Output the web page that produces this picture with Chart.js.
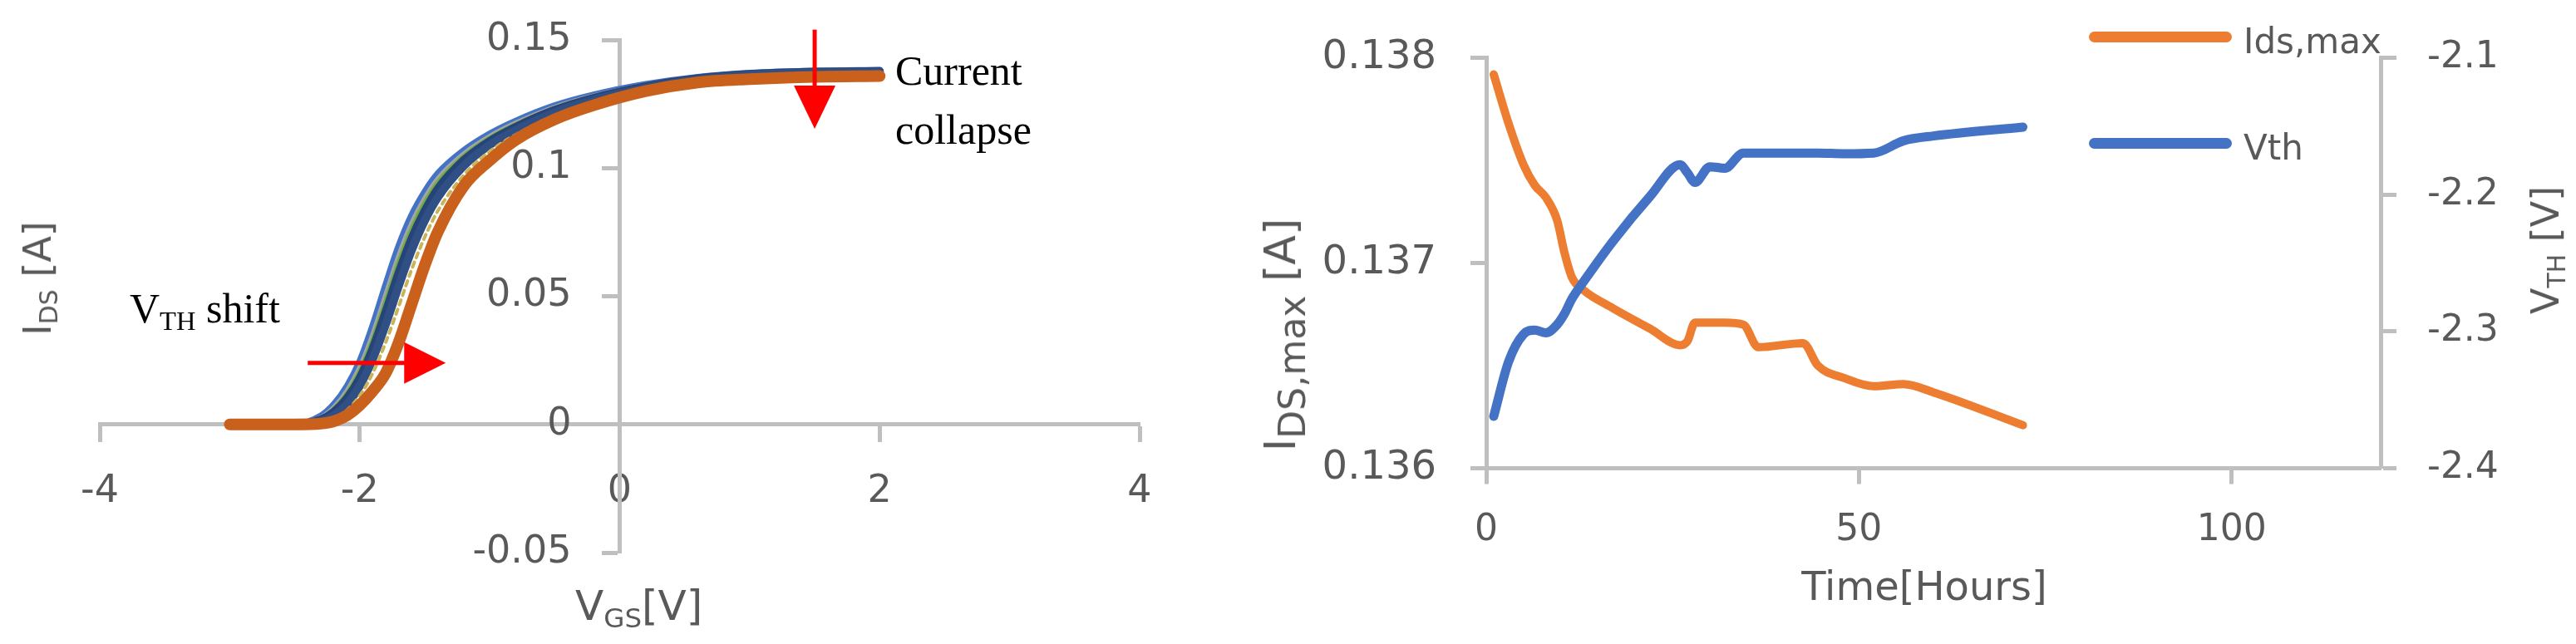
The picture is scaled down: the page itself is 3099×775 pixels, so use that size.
<!DOCTYPE html>
<html>
<head>
<meta charset="utf-8">
<script src="https://cdn.jsdelivr.net/npm/chart.js@4"></script>
<style>
  html, body { margin: 0; padding: 0; background: #fff; }
  #page { position: relative; width: 3099px; height: 775px; overflow: hidden; font-family: 'DejaVu Sans', sans-serif; color: #595959; }
  .box { position: absolute; top: 0; height: 775px; }
  .txt { position: absolute; white-space: nowrap; line-height: 1; }
  .serif { font-family: 'Liberation Serif', 'Times New Roman', serif; color: #000; }
  .sub { font-size: 0.65em; position: relative; top: 0.28em; }
  .rot { transform: translate(-50%, -50%) rotate(-90deg); }
  .swatch { position: absolute; height: 13px; border-radius: 7px; }
</style>
</head>
<body>
<div id="page">
  <div class="box" style="left:0; width:1480px;"><canvas id="transfer"></canvas></div>
  <div class="box" style="left:1480px; width:1619px;"><canvas id="stress"></canvas></div>

  <!-- left panel texts -->
  <div class="txt rot" style="left:45px; top:335px; font-size:46px;">I<span class="sub">DS</span> [A]</div>
  <div class="txt" style="left:692px; top:704px; font-size:50px;">V<span class="sub">GS</span>[V]</div>
  <div class="txt serif" style="left:1077px; top:60px; font-size:50px;">Current</div>
  <div class="txt serif" style="left:1077px; top:131px; font-size:50px;">collapse</div>
  <div class="txt serif" style="left:156px; top:346px; font-size:50px;">V<span class="sub">TH</span> shift</div>

  <!-- right panel texts -->
  <div class="txt rot" style="left:1540px; top:403px; font-size:52px;">I<span class="sub" style="font-size:0.85em">DS,max</span> [A]</div>
  <div class="txt rot" style="left:3062px; top:301px; font-size:46px;">V<span class="sub">TH</span> [V]</div>
  <div class="txt" style="left:2315px; top:681px; font-size:48px; transform: translateX(-50%);">Time[Hours]</div>

  <div class="swatch" id="swI" style="left:2513px; top:38px; width:172px;"></div>
  <div class="txt" style="left:2699px; top:29px; font-size:42px;">Ids,max</div>
  <div class="swatch" id="swV" style="left:2513px; top:166px; width:172px;"></div>
  <div class="txt" style="left:2699px; top:157px; font-size:42px;">Vth</div>
</div>

<script>
// ---- left panel: transfer curves during stress ----
const vgs       = [-3, -2.5, -2.3, -2.2, -2.1, -2, -1.9, -1.8, -1.7, -1.6, -1.5, -1.4, -1.2, -1, -0.8, -0.5, -0.2, 0.2, 0.6, 1, 1.5, 2];
const idsBlue   = [0, 0.0002, 0.0035, 0.0080, 0.0150, 0.0250, 0.0390, 0.0550, 0.0700, 0.0820, 0.0910, 0.0980, 0.1070, 0.1135, 0.1185, 0.1245, 0.1287, 0.1328, 0.1356, 0.1372, 0.1380, 0.1383];
const idsGray   = [0, 0.0001, 0.0028, 0.0068, 0.0132, 0.0225, 0.0355, 0.0510, 0.0662, 0.0788, 0.0885, 0.0960, 0.1057, 0.1125, 0.1177, 0.1239, 0.1283, 0.1325, 0.1354, 0.1370, 0.1379, 0.1382];
const idsGreen  = [0, 0.0001, 0.0024, 0.0060, 0.0120, 0.0208, 0.0333, 0.0483, 0.0635, 0.0765, 0.0866, 0.0945, 0.1047, 0.1118, 0.1171, 0.1234, 0.1279, 0.1322, 0.1352, 0.1369, 0.1377, 0.1380];
const idsNavyA  = [0, 0.0001, 0.0018, 0.0048, 0.0100, 0.0180, 0.0295, 0.0438, 0.0590, 0.0725, 0.0832, 0.0918, 0.1030, 0.1105, 0.1160, 0.1226, 0.1273, 0.1318, 0.1349, 0.1366, 0.1375, 0.1378];
const idsNavyB  = [0, 0, 0.0012, 0.0035, 0.0078, 0.0150, 0.0255, 0.0390, 0.0540, 0.0680, 0.0795, 0.0885, 0.1008, 0.1090, 0.1148, 0.1217, 0.1266, 0.1313, 0.1345, 0.1363, 0.1372, 0.1375];
const idsGold   = [0, 0, 0.0007, 0.0022, 0.0055, 0.0112, 0.0200, 0.0320, 0.0460, 0.0605, 0.0730, 0.0832, 0.0972, 0.1065, 0.1130, 0.1205, 0.1257, 0.1307, 0.1341, 0.1359, 0.1368, 0.1371];
const idsOrange = [0, 0, 0.0003, 0.0012, 0.0035, 0.0075, 0.0130, 0.0200, 0.0320, 0.0470, 0.0620, 0.0750, 0.0930, 0.1030, 0.1110, 0.1190, 0.1245, 0.1300, 0.1334, 0.1347, 0.1356, 0.1359];
const vgsTicks = [-4, -2, 0, 2, 4];
const idsTicks = [-0.05, 0, 0.05, 0.1, 0.15];
const idsTickLabels = ['-0.05', '0', '0.05', '0.1', '0.15'];

// red arrows, in data units
const collapseArrow = { x: 1.5, from: 0.154, to: 0.1153 };
const shiftArrow = { y: 0.024, from: -2.4, to: -1.338 };

// ---- right panel: Ids,max and Vth vs stress time ----
const hours  = [1, 3, 5, 6.5, 8, 9.5, 10.5, 11.5, 13, 17, 22, 26, 27, 28, 30, 32, 34.5, 36.5, 42.5, 44.5, 48, 52, 56, 60, 72];
const idsMax = [0.13792, 0.13768, 0.13748, 0.13738, 0.13732, 0.13721, 0.13705, 0.13693, 0.13687, 0.13678, 0.13668, 0.13660, 0.13662, 0.13671, 0.13671, 0.13671, 0.13670, 0.13659, 0.13661, 0.13650, 0.13644, 0.13640, 0.13641, 0.13637, 0.13621];
const vth    = [-2.362, -2.322, -2.302, -2.299, -2.301, -2.295, -2.287, -2.276, -2.264, -2.234, -2.201, -2.178, -2.184, -2.191, -2.1795, -2.1806, -2.1695, -2.1695, -2.1695, -2.1695, -2.1700, -2.1695, -2.1605, -2.1570, -2.1505];
const hourTicks = [0, 50, 100];
const idsMaxTicks = [0.136, 0.137, 0.138];
const vthTicks = [-2.4, -2.3, -2.2, -2.1];

const axisGray = '#BFBFBF';
const tickGray = '#595959';
const orangeI = '#ED7D31';
const blueV = '#4472C4';
document.getElementById('swI').style.background = orangeI;
document.getElementById('swV').style.background = blueV;

Chart.defaults.font.family = "'DejaVu Sans', sans-serif";
Chart.defaults.color = tickGray;
Chart.defaults.animation = false;
Chart.defaults.events = [];
Chart.defaults.plugins.legend.display = false;
Chart.defaults.plugins.tooltip.enabled = false;

const toXY = (xs, ys) => xs.map((x, i) => ({ x: x, y: ys[i] }));
const curve = (data, color, width, order, dash) => ({
    data: toXY(vgs, data),
    borderColor: color,
    borderWidth: width,
    borderDash: dash || [],
    borderCapStyle: 'round',
    borderJoinStyle: 'round',
    pointRadius: 0,
    tension: 0.4,
    cubicInterpolationMode: 'monotone',
    order: order,
    clip: false
});

const tickMarks = { drawOnChartArea: false, drawTicks: true, tickLength: 19, tickWidth: 5, tickColor: axisGray };

// tick labels of the centred y axis, placed left of the axis line
const yLabelPlugin = {
    id: 'yLabels',
    afterDraw(chart) {
        const { ctx, scales: { x, y } } = chart;
        const ax = x.getPixelForValue(0);
        ctx.save();
        ctx.font = "46px 'DejaVu Sans'";
        ctx.fillStyle = tickGray;
        ctx.textAlign = 'right';
        ctx.textBaseline = 'middle';
        idsTicks.forEach((v, i) => ctx.fillText(idsTickLabels[i], ax - 58, y.getPixelForValue(v)));
        ctx.restore();
    }
};

const arrowPlugin = {
    id: 'arrows',
    afterDraw(chart) {
        const { ctx, scales: { x, y } } = chart;
        ctx.save();
        ctx.strokeStyle = '#FF0000';
        ctx.fillStyle = '#FF0000';
        ctx.lineWidth = 5;
        // current collapse
        let ax = x.getPixelForValue(collapseArrow.x);
        let a0 = y.getPixelForValue(collapseArrow.from);
        let a1 = y.getPixelForValue(collapseArrow.to);
        ctx.beginPath(); ctx.moveTo(ax, a0); ctx.lineTo(ax, a1 - 48); ctx.stroke();
        ctx.beginPath(); ctx.moveTo(ax - 25, a1 - 52); ctx.lineTo(ax + 25, a1 - 52); ctx.lineTo(ax, a1); ctx.closePath(); ctx.fill();
        // Vth shift
        let ay = y.getPixelForValue(shiftArrow.y);
        let b0 = x.getPixelForValue(shiftArrow.from);
        let b1 = x.getPixelForValue(shiftArrow.to);
        ctx.beginPath(); ctx.moveTo(b0, ay); ctx.lineTo(b1 - 48, ay); ctx.stroke();
        ctx.beginPath(); ctx.moveTo(b1 - 50, ay - 25); ctx.lineTo(b1 - 50, ay + 25); ctx.lineTo(b1, ay); ctx.closePath(); ctx.fill();
        ctx.restore();
    }
};

new Chart(document.getElementById('transfer'), {
    type: 'line',
    data: {
        datasets: [
            curve(idsBlue, '#4472C4', 7, 6),
            curve(idsGray, '#A5A5A5', 5, 5),
            curve(idsGreen, '#70AD47', 5, 4),
            curve(idsNavyA, '#264478', 10, 3),
            curve(idsNavyB, '#2F4F85', 10, 2),
            curve(idsGold, '#C9B458', 4, 1, [6, 6]),
            curve(idsOrange, '#C9601C', 14, 0)
        ]
    },
    options: {
        responsive: true,
        maintainAspectRatio: false,
        layout: { padding: { left: 120, right: 109, top: 48, bottom: 110 } },
        scales: {
            x: {
                type: 'linear', min: -4, max: 4, position: { y: 0 },
                afterBuildTicks: s => { s.ticks = vgsTicks.map(v => ({ value: v })); },
                afterFit: s => { s.height = 0; },
                grid: tickMarks,
                border: { color: axisGray, width: 5 },
                ticks: { color: tickGray, font: { size: 46 }, padding: 35, maxRotation: 0, autoSkip: false }
            },
            y: {
                type: 'linear', min: -0.05, max: 0.15, position: { x: 0 },
                afterBuildTicks: s => { s.ticks = idsTicks.map(v => ({ value: v })); },
                afterFit: s => { s.width = 0; },
                grid: tickMarks,
                border: { color: axisGray, width: 5 },
                ticks: { display: false }
            }
        }
    },
    plugins: [yLabelPlugin, arrowPlugin]
});

new Chart(document.getElementById('stress'), {
    type: 'line',
    data: {
        datasets: [
            {
                label: 'Ids,max', data: toXY(hours, idsMax), yAxisID: 'y',
                borderColor: orangeI, borderWidth: 10, pointRadius: 0,
                borderCapStyle: 'round', borderJoinStyle: 'round',
                cubicInterpolationMode: 'monotone', order: 1
            },
            {
                label: 'Vth', data: toXY(hours, vth), yAxisID: 'y2',
                borderColor: blueV, borderWidth: 11, pointRadius: 0,
                borderCapStyle: 'round', borderJoinStyle: 'round',
                cubicInterpolationMode: 'monotone', order: 0
            }
        ]
    },
    options: {
        responsive: true,
        maintainAspectRatio: false,
        layout: { padding: { left: 0, right: 0, top: 51, bottom: 0 } },
        scales: {
            x: {
                type: 'linear', min: 0, max: 120, position: 'bottom',
                afterBuildTicks: s => { s.ticks = hourTicks.map(v => ({ value: v })); },
                afterFit: s => { s.height = 211.5; },
                grid: tickMarks,
                border: { color: axisGray, width: 5 },
                ticks: { color: tickGray, font: { size: 44 }, padding: 30, maxRotation: 0, autoSkip: false }
            },
            y: {
                type: 'linear', min: 0.136, max: 0.138, position: 'left',
                afterBuildTicks: s => { s.ticks = idsMaxTicks.map(v => ({ value: v })); },
                afterFit: s => { s.width = 308; },
                grid: tickMarks,
                border: { color: axisGray, width: 5 },
                ticks: { color: tickGray, font: { size: 48 }, padding: 41, callback: v => v.toFixed(3) }
            },
            y2: {
                type: 'linear', min: -2.4, max: -2.1, position: 'right',
                afterBuildTicks: s => { s.ticks = vthTicks.map(v => ({ value: v })); },
                afterFit: s => { s.width = 235; },
                grid: tickMarks,
                border: { color: axisGray, width: 5 },
                ticks: { color: tickGray, font: { size: 44 }, padding: 37, callback: v => v.toFixed(1) }
            }
        }
    }
});
</script>
</body>
</html>
